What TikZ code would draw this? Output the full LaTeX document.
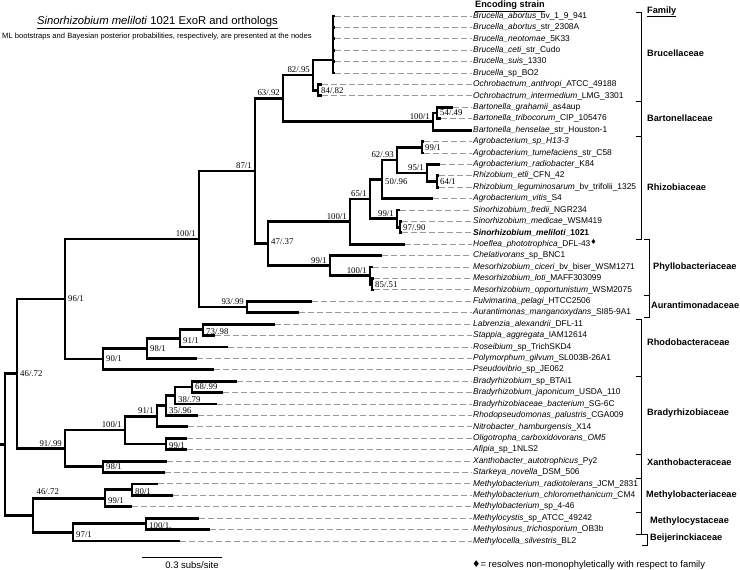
\documentclass[tikz,border=0pt]{standalone}
\usepackage{fontspec}
\setmainfont{Liberation Sans}
\newfontfamily\bootfont{Liberation Serif}
\newfontfamily\symfont{DejaVu Sans}
\usetikzlibrary{positioning}
\newcommand{\dia}{{\symfont ♦}}

\begin{document}
\begin{tikzpicture}[
    x=1pt, y=-1pt,
    branch/.style={line width=2.8pt},
    leader/.style={draw=black!40, line width=0.9pt, dash pattern=on 6pt off 3pt},
    bracket/.style={line width=1pt},
    leaf/.style={anchor=west, inner sep=1pt, font=\fontsize{8.4}{10}\selectfont},
    fam/.style={anchor=west, inner sep=1pt, font=\fontsize{9.2}{11}\selectfont\bfseries},
    boot/.style={inner sep=0.5pt, font=\fontsize{8.8}{10}\selectfont\bootfont},
    bootl/.style={boot, above left=1.5pt and 2.5pt of #1},
    bootr/.style={boot, right=2.5pt of #1}
]
\useasboundingbox (0,0) rectangle (740,570);

% Title and headers
\node[font=\fontsize{11.3}{13}\selectfont] (ttl) at (157.5,23) {\underline{\textit{Sinorhizobium meliloti} 1021 ExoR and orthologs}};
\node[font=\fontsize{7.6}{9}\selectfont] (sub) at (157,37) {ML bootstraps and Bayesian posterior probabilities, respectively, are presented at the nodes};
\node[fam] (hstr) at (474,6.5) {\underline{Encoding strain}};
\node[fam] (hfam) at (646,12) {\underline{Family}};

\begin{scope}[y=-11.413pt, yshift=-4.587pt]
% Internal nodes
\coordinate (bru) at (333,4.85);
\coordinate (och) at (318,7.5);
\coordinate (bru82) at (313,6.17);
\coordinate (bar54) at (437,9.5);
\coordinate (bar) at (433,10.25);
\coordinate (b63) at (283,8.21);
\coordinate (agr99) at (422,12.5);
\coordinate (rle64) at (437,15.5);
\coordinate (agr95) at (427,14.75);
\coordinate (agr62) at (397,13.625);
\coordinate (agr50) at (382,15.31);
\coordinate (sin97) at (400,19.5);
\coordinate (sin99) at (397,18.75);
\coordinate (rhi65) at (370,17.03);
\coordinate (rhi100) at (350,19.02);
\coordinate (mes85) at (372,24.5);
\coordinate (mes100) at (370,23.75);
\coordinate (phy99) at (330,22.875);
\coordinate (p47) at (268,20.95);
\coordinate (p87) at (255,14.58);
\coordinate (aur93) at (247,26.5);
\coordinate (a100) at (199,20.54);
\coordinate (rho73) at (203,28.5);
\coordinate (rho91) at (180,29.25);
\coordinate (rho98) at (147,30.125);
\coordinate (rho90) at (103,31.06);
\coordinate (b96) at (65,25.8);
\coordinate (bra68) at (192,33.5);
\coordinate (bra38) at (175,34.25);
\coordinate (bra35) at (166,35.125);
\coordinate (bra91) at (157,36.06);
\coordinate (oli99) at (166,38.5);
\coordinate (bra100) at (125,37.28);
\coordinate (xan98) at (103,40.5);
\coordinate (b91) at (65,38.89);
\coordinate (up46) at (17,32.35);
\coordinate (mbc80) at (132,42.5);
\coordinate (mbc99) at (105,43.25);
\coordinate (mcy100) at (146,45.5);
\coordinate (b97) at (73,46.25);
\coordinate (lo46) at (33,44.75);
\coordinate (root) at (5,38.55);
\coordinate (stub) at (0,38.55);

% Tips and strain labels
\coordinate (t1) at (335,1); \node[leaf] (l1) at (472,1) {\textit{Brucella\_abortus}\_bv\_1\_9\_941};
\coordinate (t2) at (335,2); \node[leaf] (l2) at (472,2) {\textit{Brucella\_abortus}\_str\_2308A};
\coordinate (t3) at (335,3); \node[leaf] (l3) at (472,3) {\textit{Brucella\_neotomae}\_5K33};
\coordinate (t4) at (335,4); \node[leaf] (l4) at (472,4) {\textit{Brucella\_ceti}\_str\_Cudo};
\coordinate (t5) at (335,5); \node[leaf] (l5) at (472,5) {\textit{Brucella\_suis}\_1330};
\coordinate (t6) at (335,6); \node[leaf] (l6) at (472,6) {\textit{Brucella}\_sp\_BO2};
\coordinate (t7) at (322,7); \node[leaf] (l7) at (472,7) {\textit{Ochrobactrum\_anthropi}\_ATCC\_49188};
\coordinate (t8) at (322,8); \node[leaf] (l8) at (472,8) {\textit{Ochrobactrum\_intermedium}\_LMG\_3301};
\coordinate (t9) at (453,9); \node[leaf] (l9) at (472,9) {\textit{Bartonella\_grahamii}\_as4aup};
\coordinate (t10) at (441,10); \node[leaf] (l10) at (472,10) {\textit{Bartonella\_tribocorum}\_CIP\_105476};
\coordinate (t11) at (472,11); \node[leaf] (l11) at (472,11) {\textit{Bartonella\_henselae}\_str\_Houston-1};
\coordinate (t12) at (424,12); \node[leaf] (l12) at (472,12) {\textit{Agrobacterium\_sp\_H13-3}};
\coordinate (t13) at (424,13); \node[leaf] (l13) at (472,13) {\textit{Agrobacterium\_tumefaciens}\_str\_C58};
\coordinate (t14) at (440,14); \node[leaf] (l14) at (472,14) {\textit{Agrobacterium\_radiobacter}\_K84};
\coordinate (t15) at (439,15); \node[leaf] (l15) at (472,15) {\textit{Rhizobium\_etli}\_CFN\_42};
\coordinate (t16) at (439,16); \node[leaf] (l16) at (472,16) {\textit{Rhizobium\_leguminosarum}\_bv\_trifolii\_1325};
\coordinate (t17) at (433,17); \node[leaf] (l17) at (472,17) {\textit{Agrobacterium\_vitis}\_S4};
\coordinate (t18) at (400,18); \node[leaf] (l18) at (472,18) {\textit{Sinorhizobium\_fredii}\_NGR234};
\coordinate (t19) at (402,19); \node[leaf] (l19) at (472,19) {\textit{Sinorhizobium\_medicae}\_WSM419};
\coordinate (t20) at (402,20); \node[leaf] (l20) at (472,20) {\bfseries\textit{Sinorhizobium\_meliloti}\_1021};
\coordinate (t21) at (405,21); \node[leaf] (l21) at (472,21) {\textit{Hoeflea\_phototrophica}\_DFL-43\raisebox{2pt}{\fontsize{7}{7}\selectfont\dia}};
\coordinate (t22) at (382,22); \node[leaf] (l22) at (472,22) {\textit{Chelativorans}\_sp\_BNC1};
\coordinate (t23) at (373,23); \node[leaf] (l23) at (472,23) {\textit{Mesorhizobium\_ciceri}\_bv\_biser\_WSM1271};
\coordinate (t24) at (374,24); \node[leaf] (l24) at (472,24) {\textit{Mesorhizobium\_loti}\_MAFF303099};
\coordinate (t25) at (374,25); \node[leaf] (l25) at (472,25) {\textit{Mesorhizobium\_opportunistum}\_WSM2075};
\coordinate (t26) at (312,26); \node[leaf] (l26) at (472,26) {\textit{Fulvimarina\_pelagi}\_HTCC2506};
\coordinate (t27) at (299,27); \node[leaf] (l27) at (472,27) {\textit{Aurantimonas\_manganoxydans}\_SI85-9A1};
\coordinate (t28) at (275,28); \node[leaf] (l28) at (472,28) {\textit{Labrenzia\_alexandrii}\_DFL-11};
\coordinate (t29) at (215,29); \node[leaf] (l29) at (472,29) {\textit{Stappia\_aggregata}\_IAM12614};
\coordinate (t30) at (228,30); \node[leaf] (l30) at (472,30) {\textit{Roseibium}\_sp\_TrichSKD4};
\coordinate (t31) at (197,31); \node[leaf] (l31) at (472,31) {\textit{Polymorphum\_gilvum}\_SL003B-26A1};
\coordinate (t32) at (214,32); \node[leaf] (l32) at (472,32) {\textit{Pseudovibrio}\_sp\_JE062};
\coordinate (t33) at (237,33); \node[leaf] (l33) at (472,33) {\textit{Bradyrhizobium}\_sp\_BTAi1};
\coordinate (t34) at (223,34); \node[leaf] (l34) at (472,34) {\textit{Bradyrhizobium\_japonicum}\_USDA\_110};
\coordinate (t35) at (217,35); \node[leaf] (l35) at (472,35) {\textit{Bradyrhizobiaceae\_bacterium}\_SG-6C};
\coordinate (t36) at (198,36); \node[leaf] (l36) at (472,36) {\textit{Rhodopseudomonas\_palustris}\_CGA009};
\coordinate (t37) at (188,37); \node[leaf] (l37) at (472,37) {\textit{Nitrobacter\_hamburgensis}\_X14};
\coordinate (t38) at (187,38); \node[leaf] (l38) at (472,38) {\textit{Oligotropha\_carboxidovorans\_OM5}};
\coordinate (t39) at (187,39); \node[leaf] (l39) at (472,39) {\textit{Afipia}\_sp\_1NLS2};
\coordinate (t40) at (167,40); \node[leaf] (l40) at (472,40) {\textit{Xanthobacter\_autotrophicus}\_Py2};
\coordinate (t41) at (165,41); \node[leaf] (l41) at (472,41) {\textit{Starkeya\_novella}\_DSM\_506};
\coordinate (t42) at (158,42); \node[leaf] (l42) at (472,42) {\textit{Methylobacterium\_radiotolerans}\_JCM\_2831};
\coordinate (t43) at (173,43); \node[leaf] (l43) at (472,43) {\textit{Methylobacterium\_chloromethanicum}\_CM4};
\coordinate (t44) at (132,44); \node[leaf] (l44) at (472,44) {\textit{Methylobacterium}\_sp\_4-46};
\coordinate (t45) at (199,45); \node[leaf] (l45) at (472,45) {\textit{Methylocystis}\_sp\_ATCC\_49242};
\coordinate (t46) at (210,46); \node[leaf] (l46) at (472,46) {\textit{Methylosinus\_trichosporium}\_OB3b};
\coordinate (t47) at (180,47); \node[leaf] (l47) at (472,47) {\textit{Methylocella\_silvestris}\_BL2};

% Dashed leaders
\foreach \i in {1,...,47}
    \draw[leader] (t\i) -- (l\i.west);

% Branches
\draw[branch] (bru) |- (t1) (bru) |- (t2) (bru) |- (t3) (bru) |- (t4) (bru) |- (t5) (bru) |- (t6);
\draw[branch] (och) |- (t7) (och) |- (t8);
\draw[branch] (bru82) |- (bru) (bru82) |- (och);
\draw[branch] (bar54) |- (t9) (bar54) |- (t10);
\draw[branch] (bar) |- (bar54) (bar) |- (t11);
\draw[branch] (b63) |- (bru82) (b63) |- (bar);
\draw[branch] (agr99) |- (t12) (agr99) |- (t13);
\draw[branch] (rle64) |- (t15) (rle64) |- (t16);
\draw[branch] (agr95) |- (t14) (agr95) |- (rle64);
\draw[branch] (agr62) |- (agr99) (agr62) |- (agr95);
\draw[branch] (agr50) |- (agr62) (agr50) |- (t17);
\draw[branch] (sin97) |- (t19) (sin97) |- (t20);
\draw[branch] (sin99) |- (t18) (sin99) |- (sin97);
\draw[branch] (rhi65) |- (agr50) (rhi65) |- (sin99);
\draw[branch] (rhi100) |- (rhi65) (rhi100) |- (t21);
\draw[branch] (mes85) |- (t24) (mes85) |- (t25);
\draw[branch] (mes100) |- (t23) (mes100) |- (mes85);
\draw[branch] (phy99) |- (t22) (phy99) |- (mes100);
\draw[branch] (p47) |- (rhi100) (p47) |- (phy99);
\draw[branch] (p87) |- (b63) (p87) |- (p47);
\draw[branch] (aur93) |- (t26) (aur93) |- (t27);
\draw[branch] (a100) |- (p87) (a100) |- (aur93);
\draw[branch] (rho73) |- (t28) (rho73) |- (t29);
\draw[branch] (rho91) |- (rho73) (rho91) |- (t30);
\draw[branch] (rho98) |- (rho91) (rho98) |- (t31);
\draw[branch] (rho90) |- (rho98) (rho90) |- (t32);
\draw[branch] (b96) |- (a100) (b96) |- (rho90);
\draw[branch] (bra68) |- (t33) (bra68) |- (t34);
\draw[branch] (bra38) |- (bra68) (bra38) |- (t35);
\draw[branch] (bra35) |- (bra38) (bra35) |- (t36);
\draw[branch] (bra91) |- (bra35) (bra91) |- (t37);
\draw[branch] (oli99) |- (t38) (oli99) |- (t39);
\draw[branch] (bra100) |- (bra91) (bra100) |- (oli99);
\draw[branch] (xan98) |- (t40) (xan98) |- (t41);
\draw[branch] (b91) |- (bra100) (b91) |- (xan98);
\draw[branch] (up46) |- (b96) (up46) |- (b91);
\draw[branch] (mbc80) |- (t42) (mbc80) |- (t43);
\draw[branch] (mbc99) |- (mbc80) (mbc99) |- (t44);
\draw[branch] (mcy100) |- (t45) (mcy100) |- (t46);
\draw[branch] (b97) |- (mcy100) (b97) |- (t47);
\draw[branch] (lo46) |- (mbc99) (lo46) |- (b97);
\draw[branch] (root) |- (up46) (root) |- (lo46);
\draw[branch] (stub) -- (root);

% Support values
\node[bootl=bru82] (s1) {82/.95};
\node[bootr=och] (s2) {84/.82};
\node[bootl=b63] (s3) {63/.92};
\node[bootl=bar] (s4) {100/1};
\node[bootr=bar54] (s5) {54/.49};
\node[bootr=agr99] (s6) {99/1};
\node[bootl=agr62] (s7) {62/.93};
\node[bootl=agr95] (s8) {95/1};
\node[bootr=rle64] (s9) {64/1};
\node[bootr=agr50, yshift=-2pt] (s10) {50/.96};
\node[bootl=rhi65] (s11) {65/1};
\node[bootl=sin99] (s12) {99/1};
\node[bootr=sin97] (s13) {97/.90};
\node[bootl=rhi100] (s14) {100/1};
\node[bootr=p47, yshift=2pt] (s15) {47/.37};
\node[bootl=phy99] (s16) {99/1};
\node[bootl=mes100] (s17) {100/1};
\node[bootr=mes85] (s18) {85/.51};
\node[bootl=p87] (s19) {87/1};
\node[bootl=a100] (s20) {100/1};
\node[bootl=aur93] (s21) {93/.99};
\node[bootr=b96] (s22) {96/1};
\node[bootr=rho90] (s23) {90/1};
\node[bootr=rho98] (s24) {98/1};
\node[bootr=rho91, yshift=-2pt] (s25) {91/1};
\node[bootr=rho73, yshift=-2pt] (s26) {73/.98};
\node[bootr=up46] (s27) {46/.72};
\node[bootl=b91] (s28) {91/.99};
\node[bootl=bra100] (s29) {100/1};
\node[bootl=bra91] (s30) {91/1};
\node[bootr=bra35, yshift=-5pt] (s31) {35/.96};
\node[bootr=bra38, yshift=-4pt] (s32) {38/.79};
\node[bootr=bra68] (s33) {68/.99};
\node[bootr=oli99, yshift=-2pt] (s34) {99/1};
\node[bootr=xan98] (s35) {98/1};
\node[bootr=mbc80, yshift=-2pt] (s36) {80/1};
\node[bootr=mbc99, yshift=-2pt] (s37) {99/1};
\node[bootr=mcy100, yshift=-2pt] (s38) {100/1.};
\node[bootr=b97, yshift=-2pt] (s39) {97/1};
\node[boot, anchor=south west] (s40) at (36,42.97) {46/.72};

% Family brackets
\draw[bracket] (636,0.65) -| (641,8.5) -- (636,8.5);
\draw[bracket] (636,8.5) -| (641,11.6) -- (636,11.6);
\draw[bracket] (636,11.6) -| (641,20.6) -- (636,20.6);
\draw[bracket] (644,20.6) -| (649,25.45) -- (644,25.45);
\draw[bracket] (644,25.45) -| (649,27.45) -- (644,27.45);
\draw[bracket] (636,27.6) -| (641,32.6) -- (636,32.6);
\draw[bracket] (636,32.6) -| (641,39.4) -- (636,39.4);
\draw[bracket] (636,39.4) -| (641,41.5) -- (636,41.5);
\draw[bracket] (636,41.5) -| (641,44.5) -- (636,44.5);
\draw[bracket] (636,44.5) -| (641,46.4) -- (636,46.4);
\draw[bracket] (642,46.4) -| (647,47.4) -- (642,47.4);
\node[fam] (f1) at (646,4.24) {Brucellaceae};
\node[fam] (f2) at (646,9.94) {Bartonellaceae};
\node[fam] (f3) at (646,15.98) {Rhizobiaceae};
\node[fam] (f4) at (652,23.0) {Phyllobacteriaceae};
\node[fam] (f5) at (650,26.3) {Aurantimonadaceae};
\node[fam] (f6) at (646,29.56) {Rhodobacteraceae};
\node[fam] (f7) at (646,35.8) {Bradyrhizobiaceae};
\node[fam] (f8) at (646,40.08) {Xanthobacteraceae};
\node[fam] (f9) at (645,42.97) {Methylobacteriaceae};
\node[fam] (f10) at (649,45.25) {Methylocystaceae};
\node[fam] (f11) at (649,46.74) {Beijerinckiaceae};
\end{scope}

% Scale bar and legend
\coordinate (sb1) at (142,557);
\coordinate (sb2) at (222,557);
\draw[line width=1pt] (sb1) -- (sb2);
\node[inner sep=0pt, font=\fontsize{9.5}{11}\selectfont] (sbt) at (192,565) {0.3 subs/site};
\node[anchor=west, inner sep=1pt, font=\fontsize{9.4}{11}\selectfont] (leg) at (471,565) {\dia= resolves non-monophyletically with respect to family};
\end{tikzpicture}
\end{document}
